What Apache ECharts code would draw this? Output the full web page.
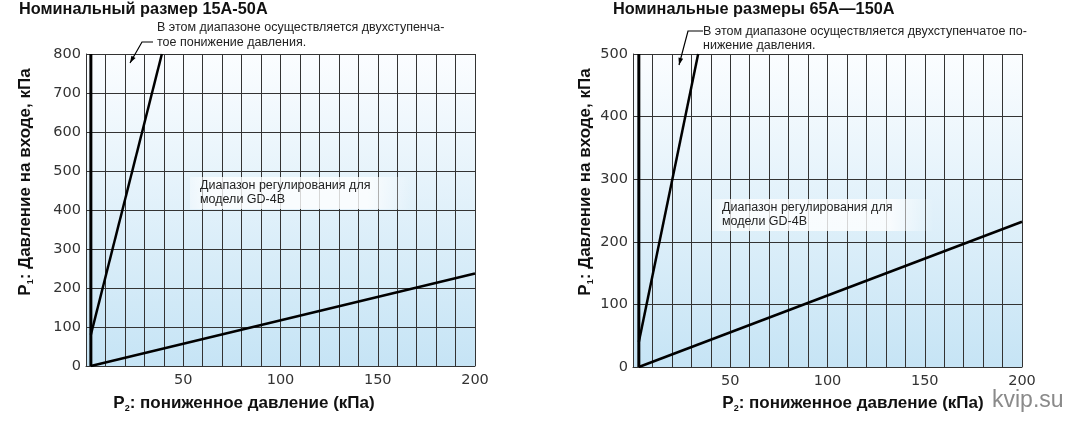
<!DOCTYPE html>
<html>
<head>
<meta charset="utf-8">
<script src="https://cdn.jsdelivr.net/npm/echarts@6/dist/echarts.min.js"></script>
<style>
  html, body { margin: 0; padding: 0; background: #fff; }
  #chart { width: 1076px; height: 433px; }
</style>
</head>
<body>
<div id="chart"></div>
<script>
// P2 axis, shared by both panels
const xMin = 0;
const xMax = 200;
const xLabels = [50, 100, 150, 200];

// 15A-50A panel
const leftYMax = 800;
const leftVertical = [[2.5, 0], [2.5, 800]];
const leftSteep = [[2.5, 80], [39, 800]];
const leftFlat = [[2.5, 0], [200, 237]];

// 65A-150A panel
const rightYMax = 500;
const rightVertical = [[3, 0], [3, 500]];
const rightSteep = [[3, 40], [33.5, 500]];
const rightFlat = [[3, 0], [200, 232]];

const titles = ['Номинальный размер 15А-50А', 'Номинальные размеры 65А—150А'];
const notes = [
  'В этом диапазоне осуществляется двухступенча-\nтое понижение давления.',
  'В этом диапазоне осуществляется двухступенчатое по-\nнижение давления.'
];
const rangeLabel = 'Диапазон регулирования для\nмодели GD-4B';
const yName = '{b|P}{s|1}{b|: Давление на входе, кПа}';
const xName = '{b|P}{s|2}{b|: пониженное давление (кПа)}';

const FONT = '"Liberation Sans", Arial, sans-serif';
const TICK_FONT = '"DejaVu Sans", sans-serif';
const INK = '#111';
const GRIDLINE = '#333';

const chart = echarts.init(document.getElementById('chart'));

const plotBg = {
  type: 'linear', x: 0, y: 0, x2: 0, y2: 1,
  colorStops: [
    { offset: 0, color: '#fbfdff' },
    { offset: 1, color: '#c6e4f5' }
  ]
};

const boxFill = {
  type: 'linear', x: 0, y: 0, x2: 1, y2: 0,
  colorStops: [
    { offset: 0, color: 'rgba(255,255,255,0.35)' },
    { offset: 0.1, color: 'rgba(255,255,255,0.8)' },
    { offset: 0.8, color: 'rgba(255,255,255,0.8)' },
    { offset: 1, color: 'rgba(255,255,255,0)' }
  ]
};

const nameRich = {
  b: { fontFamily: FONT, fontWeight: 'bold', fontSize: 17, fill: INK, lineHeight: 20 },
  s: { fontFamily: FONT, fontWeight: 'bold', fontSize: 9, fill: INK, lineHeight: 20, verticalAlign: 'bottom', padding: [8, 0, 0, 0] }
};

function xAxis(gridIndex) {
  return {
    type: 'value', gridIndex, min: xMin, max: xMax, interval: 10,
    axisLine: { show: true, lineStyle: { color: GRIDLINE, width: 1 } },
    axisTick: { show: false },
    axisLabel: {
      margin: 7, fontFamily: TICK_FONT, fontSize: 14.5, color: '#333',
      formatter: v => (xLabels.indexOf(v) >= 0 ? String(v) : '')
    },
    splitLine: { show: true, lineStyle: { color: GRIDLINE, width: 1 } }
  };
}

function yAxis(gridIndex, max) {
  return {
    type: 'value', gridIndex, min: 0, max, interval: 100,
    axisLine: { show: true, lineStyle: { color: GRIDLINE, width: 1 } },
    axisTick: { show: false },
    axisLabel: { margin: 5, fontFamily: TICK_FONT, fontSize: 14.5, color: '#333' },
    splitLine: { show: true, lineStyle: { color: GRIDLINE, width: 1 } }
  };
}

function line(idx, data, width) {
  return {
    type: 'line', xAxisIndex: idx, yAxisIndex: idx, data,
    symbol: 'none', silent: true, z: 5,
    lineStyle: { color: '#000', width }
  };
}

// leader line with a small arrow head at its end
function leader(points) {
  const [p, q] = points.slice(-2);
  const dx = q[0] - p[0], dy = q[1] - p[1];
  const len = Math.hypot(dx, dy);
  const ux = dx / len, uy = dy / len;
  const bx = q[0] - ux * 7, by = q[1] - uy * 7;
  return [
    { type: 'polyline', z: 20, shape: { points }, style: { stroke: '#000', lineWidth: 1.2, fill: null } },
    { type: 'polygon', z: 20, shape: { points: [q, [bx - uy * 2.4, by + ux * 2.4], [bx + uy * 2.4, by - ux * 2.4]] }, style: { fill: '#000' } }
  ];
}

function text(x, y, str, opts, rotation) {
  return {
    type: 'text', x, y, z: 20, rotation: rotation || 0,
    style: Object.assign({ text: str, fontFamily: FONT, fill: INK }, opts)
  };
}

const option = {
  backgroundColor: '#fff',
  animation: false,
  grid: [
    { left: 86, right: 601, top: 54, bottom: 67, show: true, borderWidth: 0, backgroundColor: plotBg },
    { left: 633, right: 54, top: 54, bottom: 66, show: true, borderWidth: 0, backgroundColor: plotBg }
  ],
  xAxis: [xAxis(0), xAxis(1)],
  yAxis: [yAxis(0, leftYMax), yAxis(1, rightYMax)],
  series: [
    line(0, leftVertical, 3),
    line(0, leftSteep, 2.5),
    line(0, leftFlat, 2.5),
    line(1, rightVertical, 3),
    line(1, rightSteep, 2.5),
    line(1, rightFlat, 2.5)
  ],
  graphic: [
    text(19, 10, titles[0], { fontSize: 16.3, fontWeight: 'bold', verticalAlign: 'middle' }),
    text(613, 10, titles[1], { fontSize: 16.3, fontWeight: 'bold', verticalAlign: 'middle' }),
    text(157, 20, notes[0], { fontSize: 12.5, lineHeight: 15, fill: '#222' }),
    text(703, 25, notes[1], { fontSize: 12.5, lineHeight: 13.5, fill: '#222' }),
    ...leader([[153, 42], [142, 42], [130, 63]]),
    ...leader([[703, 31], [688, 31], [679, 65]]),
    { type: 'rect', z: 10, shape: { x: 190, y: 177, width: 222, height: 32 }, style: { fill: boxFill } },
    { type: 'rect', z: 10, shape: { x: 712, y: 199, width: 222, height: 32 }, style: { fill: boxFill } },
    text(200, 179, rangeLabel, { fontSize: 12.5, lineHeight: 14, fill: '#222' }),
    text(722, 201, rangeLabel, { fontSize: 12.5, lineHeight: 14, fill: '#222' }),
    text(25, 182, yName, { rich: nameRich, align: 'center', verticalAlign: 'middle' }, Math.PI / 2),
    text(585, 182, yName, { rich: nameRich, align: 'center', verticalAlign: 'middle' }, Math.PI / 2),
    text(244, 403, xName, { rich: nameRich, align: 'center', verticalAlign: 'middle' }),
    text(853, 403, xName, { rich: nameRich, align: 'center', verticalAlign: 'middle' }),
    text(992, 401, 'kvip.su', { fontSize: 23, fill: '#8a8a8a', verticalAlign: 'middle' })
  ]
};

chart.setOption(option);
</script>
</body>
</html>
